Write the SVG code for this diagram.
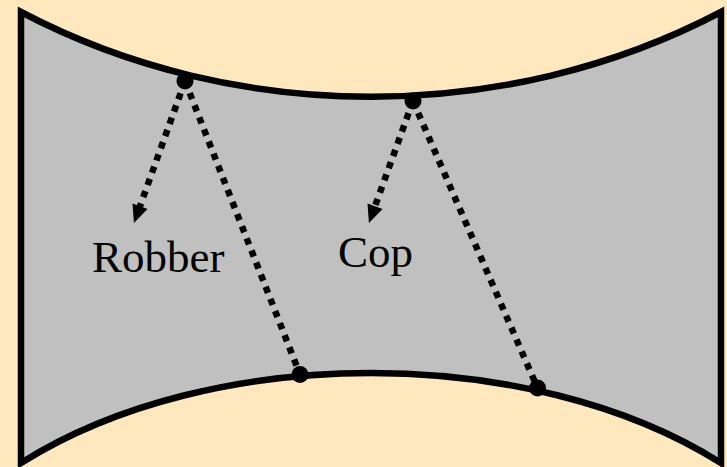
<svg xmlns="http://www.w3.org/2000/svg" width="727" height="467" viewBox="0 0 727 467">
  <style>
    .region { fill: #C0C0C0; stroke: #000; stroke-width: 6.5; stroke-linejoin: miter; }
    .dot { fill: #000; }
    .dotted { fill: none; stroke: #000; stroke-width: 6.5; stroke-dasharray: 6.5 6.5; }
    .label { font-family: "Liberation Serif", "DejaVu Serif", serif; font-size: 45px; fill: #000; }
  </style>
  <defs>
    <marker id="arrow" markerUnits="userSpaceOnUse" viewBox="-5 -10 25 20" refX="0" refY="0" markerWidth="25" markerHeight="20" orient="auto" overflow="visible">
      <path d="M15,0 L-3,-8 L-3,8 Z" fill="#000"/>
    </marker>
  </defs>
  <rect x="0" y="0" width="727" height="467" fill="#FFE7BE"/>
  <g id="region">
    <path class="region" d="M21,12 C236,125 506,125 721,12 L721,463 C531,343 211,343 21,463 Z"/>
  </g>
  <g id="connectors">
    <line class="dotted" x1="185" y1="81" x2="139" y2="209" marker-end="url(#arrow)"/>
    <line class="dotted" x1="185" y1="81" x2="300" y2="374.5"/>
    <line class="dotted" x1="413" y1="101" x2="374" y2="209" marker-end="url(#arrow)"/>
    <line class="dotted" x1="413" y1="101" x2="537.5" y2="388"/>
  </g>
  <g id="node-top1"><circle class="dot" cx="185" cy="81" r="8.5"/></g>
  <g id="node-top2"><circle class="dot" cx="413" cy="101" r="8.5"/></g>
  <g id="node-bottom1"><circle class="dot" cx="300" cy="374.5" r="8.5"/></g>
  <g id="node-bottom2"><circle class="dot" cx="537.5" cy="388" r="8.5"/></g>
  <g id="label-robber"><text class="label" x="92" y="272">Robber</text></g>
  <g id="label-cop"><text class="label" x="338" y="267">Cop</text></g>
</svg>
